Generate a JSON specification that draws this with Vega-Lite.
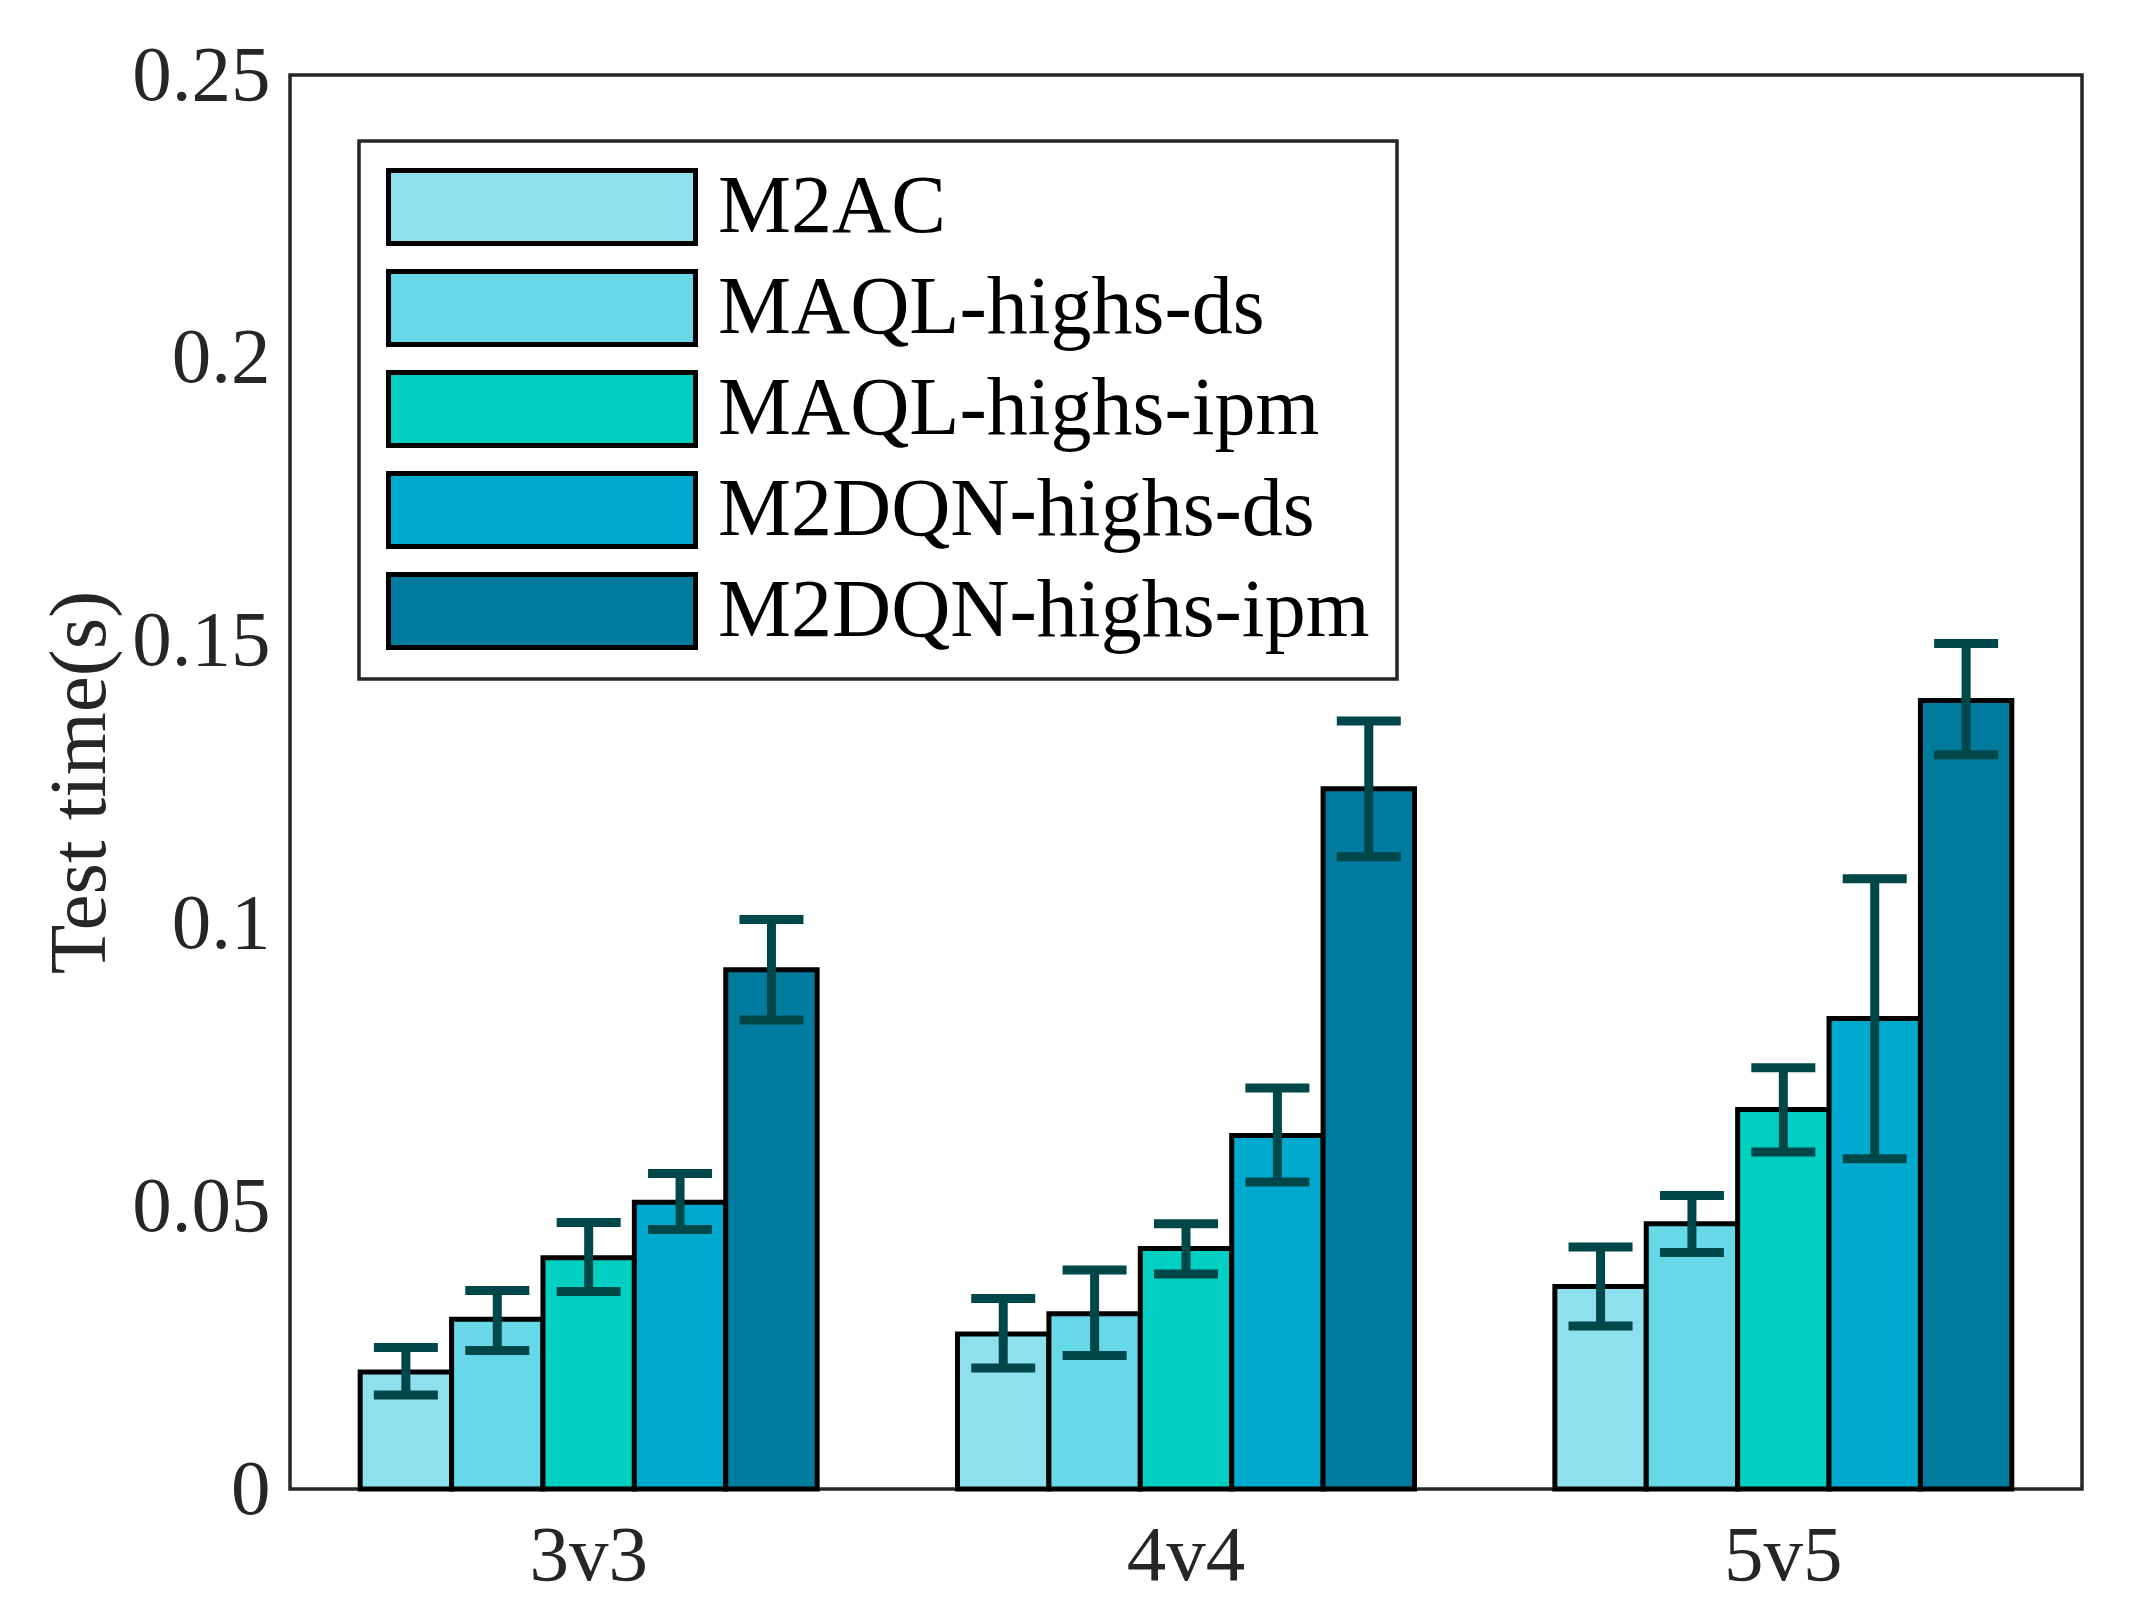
{
  "$schema": "https://vega.github.io/schema/vega-lite/v6.json",
  "autosize": "none",
  "width": 1792,
  "height": 1414,
  "padding": {"left": 290, "top": 75, "right": 49, "bottom": 133},
  "background": "white",
  "config": {
    "view": {"stroke": "#262626", "strokeWidth": 3.5},
    "font": "Liberation Serif"
  },
  "data": {
    "values": [
      {"group": "3v3", "method": "M2AC", "mean": 0.0207, "lo": 0.0166, "hi": 0.0250},
      {"group": "3v3", "method": "MAQL-highs-ds", "mean": 0.0300, "lo": 0.0245, "hi": 0.0351},
      {"group": "3v3", "method": "MAQL-highs-ipm", "mean": 0.0409, "lo": 0.0349, "hi": 0.0471},
      {"group": "3v3", "method": "M2DQN-highs-ds", "mean": 0.0507, "lo": 0.0459, "hi": 0.0558},
      {"group": "3v3", "method": "M2DQN-highs-ipm", "mean": 0.0918, "lo": 0.0829, "hi": 0.1007},
      {"group": "4v4", "method": "M2AC", "mean": 0.0274, "lo": 0.0214, "hi": 0.0337},
      {"group": "4v4", "method": "MAQL-highs-ds", "mean": 0.0310, "lo": 0.0236, "hi": 0.0387},
      {"group": "4v4", "method": "MAQL-highs-ipm", "mean": 0.0425, "lo": 0.0380, "hi": 0.0469},
      {"group": "4v4", "method": "M2DQN-highs-ds", "mean": 0.0625, "lo": 0.0543, "hi": 0.0709},
      {"group": "4v4", "method": "M2DQN-highs-ipm", "mean": 0.1238, "lo": 0.1118, "hi": 0.1358},
      {"group": "5v5", "method": "M2AC", "mean": 0.0358, "lo": 0.0288, "hi": 0.0428},
      {"group": "5v5", "method": "MAQL-highs-ds", "mean": 0.0469, "lo": 0.0418, "hi": 0.0519},
      {"group": "5v5", "method": "MAQL-highs-ipm", "mean": 0.0671, "lo": 0.0596, "hi": 0.0745},
      {"group": "5v5", "method": "M2DQN-highs-ds", "mean": 0.0832, "lo": 0.0584, "hi": 0.1079},
      {"group": "5v5", "method": "M2DQN-highs-ipm", "mean": 0.1394, "lo": 0.1298, "hi": 0.1495}
    ]
  },
  "encoding": {
    "x": {
      "field": "group",
      "type": "nominal",
      "sort": ["3v3", "4v4", "5v5"],
      "scale": {"paddingInner": 0.235, "paddingOuter": 0.1175},
      "axis": {
        "title": null,
        "labelAngle": 0,
        "ticks": false,
        "domain": false,
        "grid": false,
        "labelFont": "Liberation Serif",
        "labelFontSize": 79,
        "labelColor": "#262626",
        "labelPadding": 28
      }
    },
    "xOffset": {
      "field": "method",
      "type": "nominal",
      "sort": ["M2AC", "MAQL-highs-ds", "MAQL-highs-ipm", "M2DQN-highs-ds", "M2DQN-highs-ipm"],
      "scale": {"paddingInner": 0, "paddingOuter": 0}
    }
  },
  "layer": [
    {
      "mark": {"type": "bar", "stroke": "black", "strokeWidth": 5},
      "encoding": {
        "y": {
          "field": "mean",
          "type": "quantitative",
          "scale": {"domain": [0, 0.25], "nice": false, "zero": true},
          "axis": {
            "values": [0, 0.05, 0.1, 0.15, 0.2, 0.25],
            "format": "~g",
            "title": "Test time(s)",
            "titleFont": "Liberation Serif",
            "titleFontSize": 81,
            "titleFontWeight": "normal",
            "titleColor": "#262626",
            "titlePadding": 10,
            "ticks": false,
            "domain": false,
            "grid": false,
            "labelFont": "Liberation Serif",
            "labelFontSize": 79,
            "labelColor": "#262626",
            "labelPadding": 20
          }
        },
        "fill": {
          "field": "method",
          "type": "nominal",
          "sort": ["M2AC", "MAQL-highs-ds", "MAQL-highs-ipm", "M2DQN-highs-ds", "M2DQN-highs-ipm"],
          "scale": {
            "domain": ["M2AC", "MAQL-highs-ds", "MAQL-highs-ipm", "M2DQN-highs-ds", "M2DQN-highs-ipm"],
            "range": ["#8FE0EE", "#66D8E7", "#00CFC1", "#00AACF", "#007B9E"]
          },
          "legend": {
            "title": null,
            "orient": "none",
            "legendX": 69,
            "legendY": 66,
            "direction": "vertical",
            "symbolType": "M-1,-0.238H1V0.238H-1Z",
            "symbolSize": 94249,
            "symbolStrokeColor": "black",
            "symbolStrokeWidth": 5,
            "symbolOpacity": 1,
            "clipHeight": 78,
            "rowPadding": 19,
            "labelOffset": 20,
            "labelFont": "Liberation Serif",
            "labelFontSize": 82,
            "labelColor": "black",
            "labelLimit": 2000,
            "padding": 27,
            "strokeColor": "#262626",
            "fillColor": "white",
            "encode": {"legend": {"update": {"strokeWidth": {"value": 3.5}}}}
          }
        }
      }
    },
    {
      "mark": {"type": "rule", "color": "#00474A", "strokeWidth": 9},
      "encoding": {
        "y": {"field": "lo", "type": "quantitative"},
        "y2": {"field": "hi"}
      }
    },
    {
      "mark": {"type": "tick", "color": "#00474A", "size": 64, "thickness": 9, "opacity": 1},
      "encoding": {
        "y": {"field": "lo", "type": "quantitative"}
      }
    },
    {
      "mark": {"type": "tick", "color": "#00474A", "size": 64, "thickness": 9, "opacity": 1},
      "encoding": {
        "y": {"field": "hi", "type": "quantitative"}
      }
    }
  ]
}
